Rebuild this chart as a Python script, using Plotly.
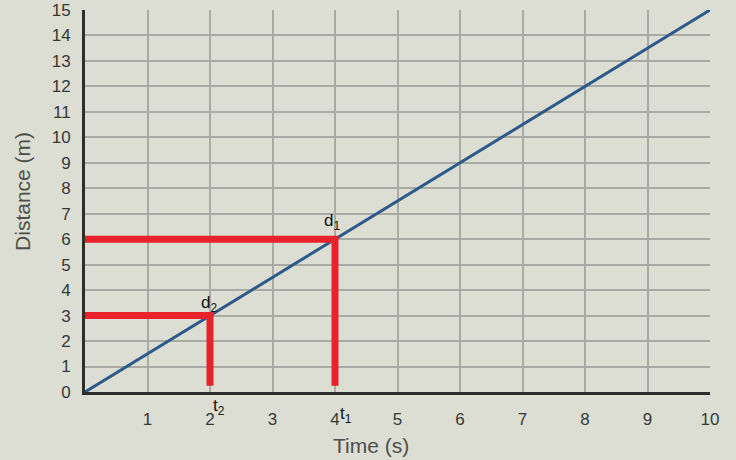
import plotly.graph_objects as go

# distance-time line
time_s = [0, 10]
distance_m = [0, 15]

# read-off points
t_points = [4, 2]
d_points = [6, 3]
t_labels = ["t<sub>1</sub>", "t<sub>2</sub>"]
d_labels = ["d<sub>1</sub>", "d<sub>2</sub>"]
t_floor = 0.25  # where the red drop lines stop above the axis

x_ticks = list(range(1, 11))
y_ticks = list(range(0, 16))

paper = "#dcddd3"
grid = "#a9aaa3"
red = "#e8212b"

fig = go.Figure()

fig.add_trace(go.Scatter(
    x=time_s, y=distance_m, mode="lines",
    line=dict(color="#2d5a8a", width=3), showlegend=False, hoverinfo="skip",
))

# red guide lines: horizontal to the y axis, vertical down to the x axis
for t, d in zip(t_points, d_points):
    fig.add_trace(go.Scatter(
        x=[0, t, t], y=[d, d, t_floor], mode="lines",
        line=dict(color=red, width=7), showlegend=False, hoverinfo="skip",
    ))

ann_font = dict(family="Liberation Sans", size=17, color="#111111")
fig.add_annotation(x=t_points[0], y=d_points[0], text=d_labels[0], showarrow=False,
                   xanchor="right", yanchor="bottom", xshift=7, yshift=4, font=ann_font)
fig.add_annotation(x=t_points[1], y=d_points[1], text=d_labels[1], showarrow=False,
                   xanchor="right", yanchor="bottom", xshift=9, yshift=-1, font=ann_font)
fig.add_annotation(x=t_points[0], y=0, text=t_labels[0], showarrow=False,
                   xanchor="left", yanchor="top", xshift=3, yshift=-10, font=ann_font)
fig.add_annotation(x=t_points[1], y=0, text=t_labels[1], showarrow=False,
                   xanchor="left", yanchor="top", xshift=1, yshift=-2, font=ann_font)

# axis titles sit a little off-centre in the original, so place them as annotations
title_font = dict(family="Liberation Sans", size=21, color="#4e4e4c")
fig.add_annotation(xref="paper", yref="paper", x=0.457, y=-0.14, text="Time (s)",
                   showarrow=False, xanchor="center", yanchor="middle", font=title_font)
fig.add_annotation(xref="paper", yref="paper", x=-0.1, y=0.525, text="Distance (m)",
                   showarrow=False, textangle=-90, xanchor="center", yanchor="middle",
                   font=title_font)

axis_font = dict(family="Liberation Sans", size=17, color="#383836")
fig.update_layout(
    width=736, height=460,
    paper_bgcolor=paper, plot_bgcolor=paper,
    margin=dict(l=85, r=26, t=10, b=68),
    xaxis=dict(
        range=[0, 10], tickvals=x_ticks, ticktext=[str(v) for v in x_ticks],
        showgrid=True, gridcolor=grid, gridwidth=2, zeroline=False,
        showline=True, linecolor="#2e2e2c", linewidth=3,
        ticks="", tickfont=axis_font, ticklabelstandoff=10, automargin=False,
    ),
    yaxis=dict(
        range=[0, 15], tickvals=y_ticks,
        showgrid=True, gridcolor=grid, gridwidth=2, zeroline=False,
        showline=True, linecolor="#2e2e2c", linewidth=3,
        ticks="", tickfont=axis_font, ticklabelstandoff=8, automargin=False,
    ),
)

# drop the page's default body margin so the figure sits at the window corner
fig.write_html("out.html", config={"displayModeBar": False},
               post_script="document.body.style.margin='0';")
